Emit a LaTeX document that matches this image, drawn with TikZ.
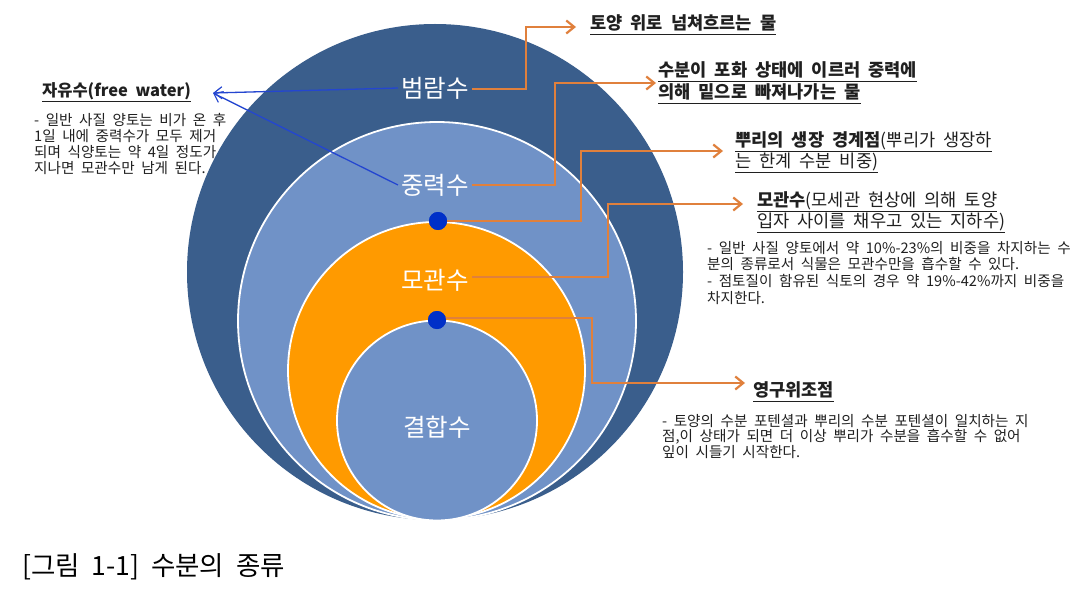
\documentclass[tikz,border=0pt]{standalone}
\usepackage{fontspec}
\setmainfont{Noto Sans CJK KR}[WordSpace=2]
\usetikzlibrary{arrows.meta}
\definecolor{outerblue}{HTML}{3A5E8C}
\definecolor{midblue}{HTML}{7092C7}
\definecolor{ringorange}{HTML}{FF9A00}
\definecolor{connorange}{HTML}{E0803C}
\definecolor{dotblue}{HTML}{0030C8}
\definecolor{arrowblue}{HTML}{2446D0}
\definecolor{txtgray}{HTML}{202020}
\newcommand\ulx[1]{\underline{#1\vphantom{()}}}
\begin{document}
\begin{tikzpicture}[x=1pt,y=-1pt,
  ringlabel/.style={text=white,font=\fontsize{24.5}{28}\selectfont,inner sep=3pt},
  oconn/.style={draw=connorange,line width=2.6pt,line join=miter,
    -{Straight Barb[length=8pt,width=13pt,line width=2.2pt]}},
  bconn/.style={draw=arrowblue,line width=1.3pt,
    -{Straight Barb[length=8pt,width=12pt,line width=1.2pt]}},
  dotnode/.style={circle,fill=dotblue,minimum size=18pt,inner sep=0pt},
  titletxt/.style={font=\fontsize{17.6}{18.3}\selectfont,text=txtgray,inner sep=0pt,align=left},
  bodytxt/.style={font=\fontsize{14.6}{16.5}\selectfont,text=txtgray,inner sep=0pt,align=left},
  ringline/.style={draw=white,line width=1.8pt}]
\useasboundingbox (0,0) rectangle (1087,591);
\fill[white] (0,0) rectangle (1087,591);
% rings
\fill[outerblue] (435,272) circle (248);
\filldraw[fill=midblue,ringline] (437,321) circle (199);
\filldraw[fill=ringorange,ringline] (436.5,370.5) circle (148.5);
\filldraw[fill=midblue,ringline] (437,420.5) circle (100);
% ring labels
\node[ringlabel] (lab1) at (435,88) {범람수};
\node[ringlabel] (lab2) at (435,185) {중력수};
\node[ringlabel] (lab3) at (435,280) {모관수};
\node[ringlabel] (lab4) at (437,427) {결합수};
% dots
\node[dotnode] (d1) at (438,221) {};
\node[dotnode] (d2) at (437,320) {};
% bends and tips
\coordinate (b1) at (526,27);   \coordinate (tip1) at (576,27);
\coordinate (b2) at (555,83);   \coordinate (tip2) at (656,83);
\coordinate (b3) at (581,151);  \coordinate (tip3) at (723,151);
\coordinate (b4) at (608,204);  \coordinate (tip4) at (743,204);
\coordinate (b5) at (592,383);  \coordinate (tip5) at (745,383);
\coordinate (fw) at (213,93);
% orange connectors
\draw[oconn] ([yshift=-1pt]lab1.east) -| (b1) -- (tip1);
\draw[oconn] (lab2.east) -| (b2) -- (tip2);
\draw[oconn] (d1.center) -| (b3) -- (tip3);
\draw[oconn] ([yshift=3pt]lab3.east) -| (b4) -- (tip4);
\draw[oconn] ([yshift=2pt]d2.center) -| (b5) -- (tip5);
\node[dotnode] at (d1) {};
\node[dotnode] at (d2) {};
% blue connectors
\draw[bconn] (lab1.west) -- (fw);
\draw[bconn] (lab2.west) -- (fw);
% left text
\node[titletxt,anchor=west,font=\fontsize{16.5}{18}\selectfont] (fwt) at (42,92) {\bfseries\ulx{자유수(free water)}};
\node[bodytxt,anchor=north west,font=\fontsize{14.6}{16.2}\selectfont] (fwb) at (34,113)
  {- 일반 사질 양토는 비가 온 후\\1일 내에 중력수가 모두 제거\\되며 식양토는 약 4일 정도가\\지나면 모관수만 남게 된다.};
% right titles
\node[titletxt,anchor=west] (t1) at (590,25) {\bfseries\ulx{토양 위로 넘쳐흐르는 물}};
\node[titletxt,anchor=north west] (t2) at (658,61.5)
  {\bfseries\ulx{수분이 포화 상태에 이르러 중력에}\\\bfseries\ulx{의해 밑으로 빠져나가는 물}};
\node[titletxt,anchor=north west,font=\fontsize{17.6}{21}\selectfont] (t3) at (735,131.5)
  {\ulx{\textbf{뿌리의 생장 경계점}(뿌리가 생장하}\\\ulx{는 한계 수분 비중)}};
\node[titletxt,anchor=north west] (t4) at (757,191.5)
  {\ulx{\textbf{모관수}(모세관 현상에 의해 토양}\\\ulx{입자 사이를 채우고 있는 지하수)}};
\node[bodytxt,anchor=north west,font=\fontsize{14.6}{16.7}\selectfont] (t4b) at (707,241)
  {- 일반 사질 양토에서 약 10\%-23\%의 비중을 차지하는 수\\분의 종류로서 식물은 모관수만을 흡수할 수 있다.\\- 점토질이 함유된 식토의 경우 약 19\%-42\%까지 비중을\\차지한다.};
\node[titletxt,anchor=west] (t5) at (753,392) {\bfseries\ulx{영구위조점}};
\node[bodytxt,anchor=north west,font=\fontsize{14.6}{14.8}\selectfont] (t5b) at (662,414.5)
  {- 토양의 수분 포텐셜과 뿌리의 수분 포텐셜이 일치하는 지\\점,이 상태가 되면 더 이상 뿌리가 수분을 흡수할 수 없어\\잎이 시들기 시작한다.};
% caption
\node[anchor=west,inner sep=0pt,font=\fontsize{26.5}{30}\selectfont,text=black] (cap) at (22,567)
  {[그림 1-1] 수분의 종류};
\end{tikzpicture}
\end{document}
